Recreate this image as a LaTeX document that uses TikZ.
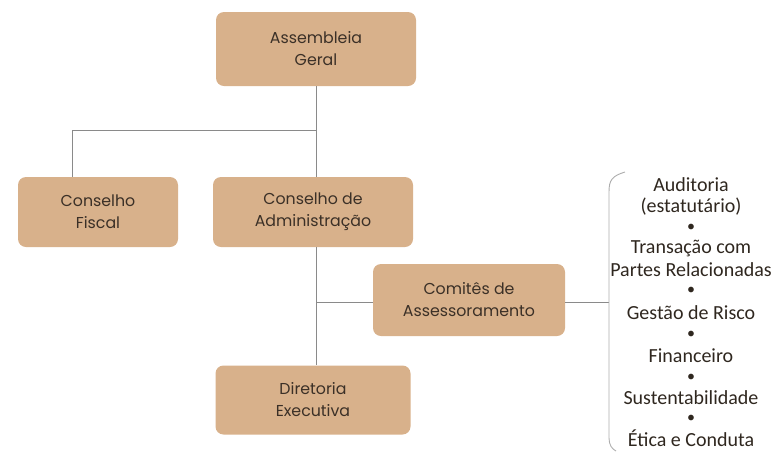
\documentclass[tikz,border=0pt]{standalone}
\usepackage{fontspec}
\setmainfont{Poppins}
\newfontfamily\listfont{Carlito}
\definecolor{boxfill}{HTML}{D8B18B}
\definecolor{boxtext}{HTML}{3B3027}
\definecolor{linegray}{HTML}{8A8A8A}
\begin{document}
\begin{tikzpicture}[x=1pt,y=-1pt,
  orgbox/.style={draw=none, fill=boxfill, rounded corners=8pt, text=boxtext,
    align=center, font=\fontsize{15.8}{22}\selectfont, inner sep=0pt},
  conn/.style={draw=linegray, line width=0.9pt},
  listtext/.style={font=\listfont\fontsize{20}{22}\selectfont, text=boxtext!80!black, align=center, inner sep=0pt},
  listdot/.style={listtext, font=\listfont\fontsize{16}{18}\selectfont}]
\useasboundingbox (0,0) rectangle (774,451);
\node[orgbox, minimum width=200pt, minimum height=74pt] (ag) at (316,49) {Assembleia\\Geral};
\node[orgbox, minimum width=160pt, minimum height=70pt] (cf) at (98,212) {Conselho\\Fiscal};
\node[orgbox, minimum width=200pt, minimum height=70pt] (ca) at (313,212) {Conselho de\\Administração};
\node[orgbox, minimum width=192pt, minimum height=72pt] (cm) at (469,300) {Comitês de\\Assessoramento};
\node[orgbox, minimum width=195pt, minimum height=69pt] (de) at (313,400) {Diretoria\\Executiva};
\coordinate (j1) at (316,130);
\coordinate (j2) at (72,130);
\coordinate (j3) at (316,302);
\coordinate (b1) at (609,302);
\draw[conn] (ag.south -| j1) -- (ca.north -| j1);
\draw[conn] (j1) -- (j2) -- (cf.north -| j2);
\draw[conn] (ca.south -| j1) -- (de.north -| j1);
\draw[conn] (j3) -- (cm.west |- j3);
\draw[conn] (cm.east |- b1) -- (b1);
\coordinate (bt) at (625,172);
\coordinate (bb) at (616,451);
\draw[conn, draw=linegray!70] (bt) .. controls (612,176) and (609,180) .. (609,192) -- (609,438) .. controls (609,445) and (612,449) .. (bb);
\node[listtext] (l1) at (691,185) {Auditoria};
\node[listtext] (l2) at (691,207) {(estatutário)};
\node[listdot] (d1) at (691,228) {•};
\node[listtext] (l3) at (691,248) {Transação com};
\node[listtext] (l4) at (691,270) {Partes Relacionadas};
\node[listdot] (d2) at (691,291) {•};
\node[listtext] (l5) at (691,313) {Gestão de Risco};
\node[listdot] (d3) at (691,335) {•};
\node[listtext] (l6) at (691,356) {Financeiro};
\node[listdot] (d4) at (691,378) {•};
\node[listtext] (l7) at (691,398) {Sustentabilidade};
\node[listdot] (d5) at (691,419) {•};
\node[listtext] (l8) at (691,438) {Ética e Conduta};
\end{tikzpicture}
\end{document}
